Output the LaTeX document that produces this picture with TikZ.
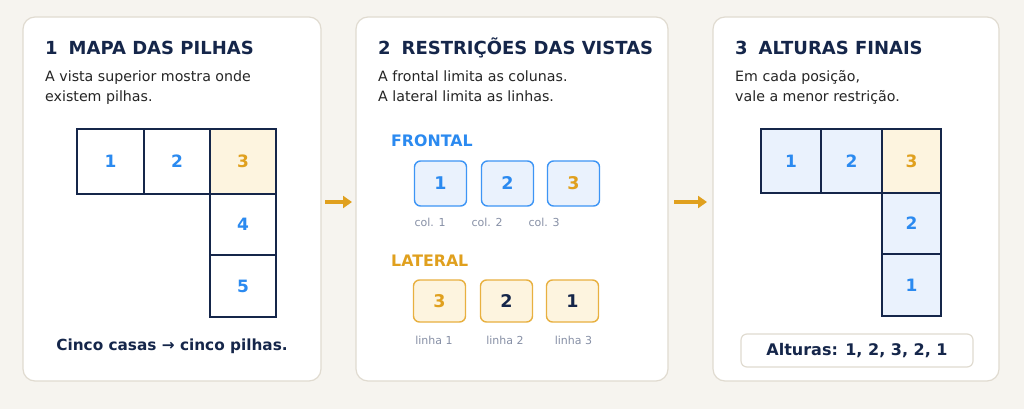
\documentclass[tikz,border=0pt]{standalone}
\usepackage{fontspec}
\setmainfont{DejaVu Sans}
\usetikzlibrary{arrows.meta}
\definecolor{bgc}{HTML}{F6F4EF}
\definecolor{navy}{HTML}{15264A}
\definecolor{bluec}{HTML}{2B8AF0}
\definecolor{orangec}{HTML}{E0A01E}
\definecolor{grayc}{HTML}{8790A6}
\definecolor{bodyc}{HTML}{252525}
\definecolor{panelb}{HTML}{E0DBD0}
\definecolor{cream}{HTML}{FDF4DF}
\definecolor{lblue}{HTML}{EAF2FD}
\definecolor{fbord}{HTML}{3D95F5}
\definecolor{lbord}{HTML}{E8B040}
\tikzset{
  panel/.style={draw=panelb, line width=1.2pt, fill=white, rounded corners=12pt},
  ttl/.style={anchor=base west, text=navy, font=\fontsize{18}{22}\selectfont\bfseries, inner sep=0pt},
  body/.style={anchor=base west, text=bodyc, font=\fontsize{14.2}{17}\selectfont, inner sep=0pt},
  cell/.style={draw=navy, line width=1.8pt, minimum width=#1, minimum height=65pt, inner sep=0pt, font=\fontsize{17}{20}\selectfont\bfseries, text=bluec},
  cell/.default=66pt,
  fbox/.style={draw=fbord, fill=lblue, line width=1.4pt, rounded corners=6pt, minimum width=52pt, minimum height=45pt, inner sep=0pt, font=\fontsize{17.5}{20}\selectfont\bfseries, text=bluec},
  lbox/.style={draw=lbord, fill=cream, line width=1.4pt, rounded corners=6pt, minimum width=52pt, minimum height=42pt, inner sep=0pt, font=\fontsize{17.5}{20}\selectfont\bfseries, text=navy},
  sub/.style={text=grayc, font=\fontsize{11}{13}\selectfont, inner sep=0pt},
  head/.style={anchor=west, font=\fontsize{15.8}{18}\selectfont\bfseries, inner sep=0pt},
  flow/.style={draw=orangec, line width=3.5pt, -{Triangle[length=9pt,width=12pt]}}
}
\begin{document}
\begin{tikzpicture}[x=1pt,y=-1pt]
\useasboundingbox (0,0) rectangle (1024,409);
\fill[bgc] (0,0) rectangle (1024,409);
% panels
\draw[panel] (23,17) rectangle (321,381);
\draw[panel] (356,17) rectangle (668,381);
\draw[panel] (713,17) rectangle (999,381);
% arrows
\coordinate (a1s) at (325,202); \coordinate (a1e) at (352,202);
\coordinate (a2s) at (674,202); \coordinate (a2e) at (707,202);
\draw[flow] (a1s) -- (a1e);
\draw[flow] (a2s) -- (a2e);
% panel 1
\node[ttl] (t1) at (45,55) {1\hspace{11pt}MAPA DAS PILHAS};
\node[body] (b1a) at (45,82) {A vista superior mostra onde};
\node[body] (b1b) at (45,102) {existem pilhas.};
\node[cell=67pt] (m1) at (110.5,161.5) {1};
\node[cell=66pt] (m2) at (177,161.5) {2};
\node[cell=66pt, fill=cream, text=orangec] (m3) at (243,161.5) {3};
\node[cell=66pt, minimum height=61pt] (m4) at (243,224.5) {4};
\node[cell=66pt, minimum height=62pt] (m5) at (243,286) {5};
\node[text=navy, font=\fontsize{15.3}{19}\selectfont\bfseries, inner sep=0pt] (c1) at (172,346) {Cinco casas → cinco pilhas.};
% panel 2
\node[ttl] (t2) at (378,55) {2\hspace{11pt}RESTRIÇÕES DAS VISTAS};
\node[body] (b2a) at (378,82) {A frontal limita as colunas.};
\node[body] (b2b) at (378,102) {A lateral limita as linhas.};
\node[head, text=bluec] (hf) at (391,141) {FRONTAL};
\node[fbox] (f1) at (440.5,183.5) {1};
\node[fbox] (f2) at (507.5,183.5) {2};
\node[fbox, text=orangec] (f3) at (573.5,183.5) {3};
\node[sub] (s1) at (430,222) {col. 1};
\node[sub] (s2) at (487,222) {col. 2};
\node[sub] (s3) at (544,222) {col. 3};
\node[head, text=orangec] (hl) at (391,261) {LATERAL};
\node[lbox, text=orangec] (l1) at (439.5,301) {3};
\node[lbox] (l2) at (506.5,301) {2};
\node[lbox] (l3) at (572.5,301) {1};
\node[sub] (r1) at (434,340) {linha 1};
\node[sub] (r2) at (505,340) {linha 2};
\node[sub] (r3) at (573.5,340) {linha 3};
% panel 3
\node[ttl] (t3) at (735,55) {3\hspace{11pt}ALTURAS FINAIS};
\node[body] (b3a) at (735,82) {Em cada posição,};
\node[body] (b3b) at (735,102) {vale a menor restrição.};
\node[cell=60pt, minimum height=64pt, fill=lblue] (h1) at (791,161) {1};
\node[cell=61pt, minimum height=64pt, fill=lblue] (h2) at (851.5,161) {2};
\node[cell=59pt, minimum height=64pt, fill=cream, text=orangec] (h3) at (911.5,161) {3};
\node[cell=59pt, minimum height=61pt, fill=lblue] (h4) at (911.5,223.5) {2};
\node[cell=59pt, minimum height=62pt, fill=lblue] (h5) at (911.5,285) {1};
\node[draw=panelb, line width=1.2pt, fill=white, rounded corners=6pt, minimum width=232pt, minimum height=33pt, inner sep=0pt, text=navy, font=\fontsize{16}{19}\selectfont\bfseries] (res) at (857,350.5) {Alturas: 1, 2, 3, 2, 1};
\end{tikzpicture}
\end{document}
